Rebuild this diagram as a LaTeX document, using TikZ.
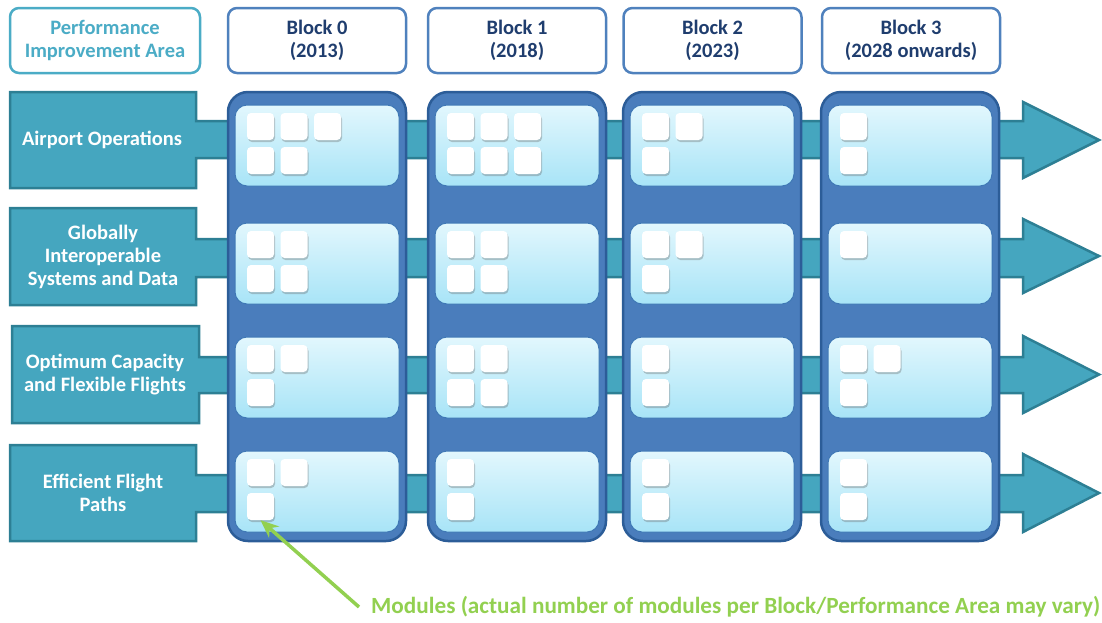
\documentclass[tikz,border=0pt]{standalone}
\usepackage{fontspec}
\setmainfont{Carlito}
\usetikzlibrary{shadows,arrows.meta}
\definecolor{labfill}{HTML}{45A6BF}
\definecolor{labdraw}{HTML}{2D7F94}
\definecolor{colfill}{HTML}{4A7DBC}
\definecolor{coldraw}{HTML}{2C5D98}
\definecolor{intop}{HTML}{E2F7FD}
\definecolor{inbot}{HTML}{A8E4F7}
\definecolor{indraw}{HTML}{3F78B5}
\definecolor{piacol}{HTML}{4BACC6}
\definecolor{blkdraw}{HTML}{4F81BD}
\definecolor{blktext}{HTML}{1F3D6E}
\definecolor{modgreen}{HTML}{92D050}
\newcommand{\rowarrow}[9]{%
  \draw[rowarr] (#1,#3) -- (#2,#3) -- (#2,#5) -- (1023,#5) -- (1023,#7)
    -- (1099,{(#7+#8)/2}) -- (1023,#8) -- (1023,#6) -- (#2,#6) -- (#2,#4)
    -- (#1,#4) -- cycle;}
\begin{document}
\begin{tikzpicture}[x=1pt,y=-1pt,
  rowarr/.style={fill=labfill, draw=labdraw, line width=2.5pt, line join=miter},
  colbox/.style={fill=colfill, draw=coldraw, line width=2.5pt, rounded corners=20pt},
  inbox/.style={top color=intop, bottom color=inbot, draw=indraw, line width=1pt, rounded corners=12pt},
  modsq/.style={fill=white, draw=none, rounded corners=4pt, minimum size=27pt, inner sep=0pt,
    drop shadow={shadow xshift=1pt, shadow yshift=-2pt, opacity=0.35, fill=black!60}},
  hdrtxt/.style={font=\fontsize{20.5}{23}\selectfont\bfseries, align=center},
  piabox/.style={hdrtxt, draw=piacol, text=piacol, fill=white, line width=2.5pt, rounded corners=9pt,
    minimum width=190pt, minimum height=65pt},
  blkbox/.style={hdrtxt, draw=blkdraw, text=blktext, fill=white, line width=2.5pt, rounded corners=9pt,
    minimum width=178pt, minimum height=65pt},
  labtxt/.style={hdrtxt, text=white},
  modtext/.style={font=\fontsize{23.2}{26}\selectfont\bfseries, text=modgreen, anchor=west, inner xsep=12pt, inner ysep=0pt},
  modarrow/.style={draw=modgreen, line width=3.5pt, -{Stealth[length=18pt,width=15pt]}}
]
\useasboundingbox (0,0) rectangle (1102,622);

% row arrows with label boxes
\rowarrow{10}{196}{92}{188}{121}{158}{102}{178}{}
\rowarrow{10}{196}{208}{305}{239}{277}{219}{293}{}
\rowarrow{12}{199}{326}{423}{357}{393}{336}{413}{}
\rowarrow{10}{196}{445}{541}{475}{512}{454}{532}{}

% block columns
\foreach \cl in {228,428,623,821}
  \draw[colbox] (\cl,92) rectangle ({\cl+178},541);

% inner boxes
\foreach \cl in {228,428,623,821}
  \foreach \rt in {105,223,337,451}
    \shade[inbox] ({\cl+7},\rt) rectangle ({\cl+171},{\rt+81});

% modules
\foreach \r/\c/\j/\n in {0/0/0/3, 0/0/1/2, 0/1/0/3, 0/1/1/3, 0/2/0/2, 0/2/1/1, 0/3/0/1, 0/3/1/1,
  1/0/0/2, 1/0/1/2, 1/1/0/2, 1/1/1/2, 1/2/0/2, 1/2/1/1, 1/3/0/1,
  2/0/0/2, 2/0/1/1, 2/1/0/2, 2/1/1/2, 2/2/0/1, 2/2/1/1, 2/3/0/2, 2/3/1/1,
  3/0/0/2, 3/0/1/1, 3/1/0/1, 3/1/1/1, 3/2/0/1, 3/2/1/1, 3/3/0/1, 3/3/1/1}{
  \pgfmathsetmacro\bx{{228,428,623,821}[\c]+32.5}
  \pgfmathsetmacro\by{{105,223,337,451}[\r]+21.5+\j*34}
  \foreach \i in {1,...,\n}
    \node[modsq] (m\r\c\j\i) at ({\bx+(\i-1)*33.5},\by) {};
}

% headers
\node[piabox] (pia) at (105,40.5) {Performance\\Improvement Area};
\node[blkbox] (b0) at (317,40.5) {Block 0\\(2013)};
\node[blkbox] (b1) at (517,40.5) {Block 1\\(2018)};
\node[blkbox] (b2) at (712.5,40.5) {Block 2\\(2023)};
\node[blkbox] (b3) at (911,40.5) {Block 3\\(2028 onwards)};

% row labels
\node[labtxt] (l1) at (102,140) {Airport Operations};
\node[labtxt] (l2) at (103,257) {Globally\\Interoperable\\Systems and Data};
\node[labtxt] (l3) at (105,375) {Optimum Capacity\\and Flexible Flights};
\node[labtxt] (l4) at (103,493) {Efficient Flight\\Paths};

% modules note
\node[modtext] (note) at (359,607) {Modules (actual number of modules per Block/Performance Area may vary)};
\draw[modarrow] (note.west) -- (m3011.south);
\end{tikzpicture}
\end{document}
